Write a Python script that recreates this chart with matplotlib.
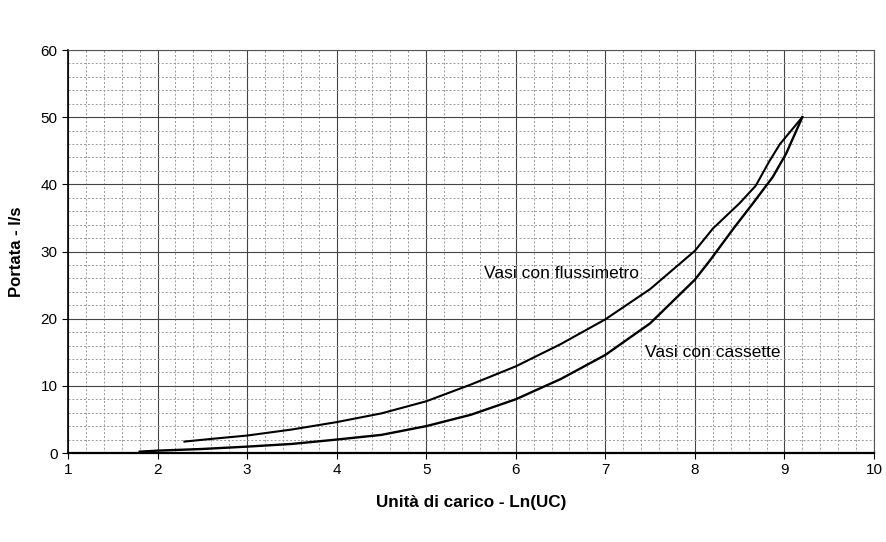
import matplotlib
matplotlib.use('Agg')
import matplotlib.pyplot as plt
from matplotlib.ticker import MultipleLocator

plt.rcParams['font.family'] = ['Liberation Sans', 'DejaVu Sans']

# Vasi con flussimetro
x_fluss = [2.3, 2.6, 3.0, 3.5, 4.0, 4.5, 5.0, 5.5, 6.0, 6.5, 7.0, 7.5, 8.0, 8.2, 8.5, 8.68, 8.83, 8.95, 9.2]
y_fluss = [1.7, 2.1, 2.6, 3.5, 4.6, 5.9, 7.7, 10.2, 12.9, 16.2, 19.9, 24.4, 30.1, 33.4, 37.2, 39.8, 43.4, 46.0, 50.0]

# Vasi con cassette
x_cass = [1.8, 2.0, 2.5, 3.0, 3.5, 4.0, 4.5, 5.0, 5.5, 6.0, 6.5, 7.0, 7.5, 8.0, 8.17, 8.43, 8.65, 8.87, 9.02, 9.2]
y_cass = [0.2, 0.35, 0.6, 0.95, 1.35, 2.0, 2.7, 4.0, 5.7, 8.0, 11.0, 14.6, 19.3, 25.8, 28.7, 33.4, 37.2, 41.1, 44.6, 50.0]

fig = plt.figure(figsize=(8.87, 5.42), dpi=100)
ax = fig.add_axes([0.0767, 0.1642, 0.9086, 0.7435])

ax.plot(x_fluss, y_fluss, color='black', lw=1.5)
ax.plot(x_cass, y_cass, color='black', lw=1.7)

ax.set_xlim(1, 10)
ax.set_ylim(0, 60)
ax.xaxis.set_major_locator(MultipleLocator(1))
ax.xaxis.set_minor_locator(MultipleLocator(0.2))
ax.yaxis.set_major_locator(MultipleLocator(10))
ax.yaxis.set_minor_locator(MultipleLocator(2))

ax.grid(which='major', color='#444444', lw=0.8, ls='-')
ax.grid(which='minor', color='#999999', lw=0.7, ls=(0, (2, 2)))
ax.set_axisbelow(True)

ax.tick_params(which='major', direction='out', length=4, labelsize=11, colors='black', width=0.8)
ax.tick_params(which='minor', length=0)
for s in ax.spines.values():
    s.set_color('#555555')
    s.set_linewidth(0.8)
ax.spines['left'].set_color('black')
ax.spines['left'].set_linewidth(1.2)
ax.spines['bottom'].set_color('black')
ax.spines['bottom'].set_linewidth(1.6)

ax.set_xlabel('Unità di carico - Ln(UC)', fontsize=12.3, fontweight='bold', labelpad=13)
ax.set_ylabel('Portata - l/s', fontsize=12, fontweight='bold', labelpad=12)

ax.text(5.65, 26.8, 'Vasi con flussimetro', fontsize=12.5, va='center', ha='left')
ax.text(7.44, 14.9, 'Vasi con cassette', fontsize=12.5, va='center', ha='left')

plt.savefig('out.png', dpi=100)
plt.close()
